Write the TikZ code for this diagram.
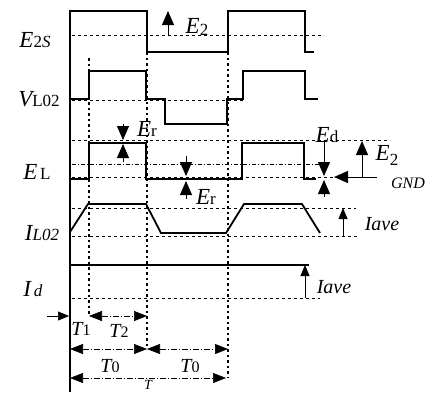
\documentclass[tikz,border=0pt]{standalone}
\usepackage{fontspec}
\setmainfont{Liberation Serif}
\usetikzlibrary{arrows.meta}

\newcommand{\siglabel}[2]{{\fontsize{23}{23}\selectfont\itshape #1}{\fontsize{17}{17}\selectfont #2}}
\newcommand{\tlabel}[2]{{\fontsize{20}{20}\selectfont\itshape #1}{\fontsize{16}{16}\selectfont #2}}

\begin{document}
\begin{tikzpicture}[
  x=1pt, y=-1pt,
  wave/.style={line width=1.8pt},
  axisline/.style={line width=1.9pt},
  guide/.style={line width=0.7pt, dash pattern=on 3pt off 3pt},
  midguide/.style={line width=0.7pt, dash pattern=on 4pt off 2pt on 1pt off 2pt},
  vguide/.style={line width=1.2pt, dash pattern=on 2.5pt off 3pt},
  arr/.style={-{Triangle[length=14pt,width=12pt]}, line width=1pt},
  sarr/.style={-{Triangle[length=11pt,width=9pt]}, line width=0.9pt},
  tarr/.style={{Triangle[length=13pt,width=10pt]}-{Triangle[length=13pt,width=10pt]},
               line width=0.6pt, dash pattern=on 6pt off 2pt on 1pt off 2pt},
  sig/.style={inner sep=0pt},
]
\useasboundingbox (0,0) rectangle (431,392);

%% ── Axis and time guides ─────────────────────────────────────────
\draw[axisline] (70,10) -- (70,392);
\draw[vguide] (89,58)  -- (89,316);
\draw[vguide] (147,52) -- (147,349);
\draw[vguide] (228,52) -- (228,378);

%% ── Level guides ─────────────────────────────────────────────────
\draw[guide]    (72,35)  -- (324,35);
\draw[guide]    (72,100) -- (243,100);
\draw[guide]    (72,140) -- (390,140);
\draw[midguide] (72,164) -- (330,164);
\draw[guide]    (72,177) -- (333,177);
\draw[guide]    (72,208) -- (356,208);
\draw[guide]    (72,236) -- (357,236);
\draw[guide]    (72,298) -- (320,298);

%% ── Waveforms ────────────────────────────────────────────────────
\draw[wave] (70,11) -- (147,11) -- (147,52) -- (228,52) -- (228,11)
            -- (305,11) -- (305,52) -- (314,52);
\draw[wave] (70,99) -- (89,99) -- (89,71) -- (146,71) -- (146,99)
            -- (165,99) -- (165,124) -- (227,124) -- (227,99)
            -- (243,99) -- (243,71) -- (305,71) -- (305,99) -- (318,99);
\draw[wave] (70,179) -- (89,179) -- (89,143) -- (146,143) -- (146,179)
            -- (242,179) -- (242,143) -- (304,143) -- (304,179) -- (316,179);
\draw[wave] (70,232) -- (88,204) -- (146,204) -- (161,233) -- (226,233)
            -- (244,204) -- (302,204) -- (320,233);
\draw[wave] (70,265) -- (309,265);

%% ── Signal names ─────────────────────────────────────────────────
\node[sig] (e2s) at (35,40)  {\siglabel{E}{2\textit{S}}};
\node[sig] (vl)  at (39,99)  {\siglabel{V}{L02}};
\node[sig] (el)  at (37,172) {\siglabel{E}{\,L}};
\node[sig] (il)  at (42,233) {\siglabel{I}{\textit{L02}}};
\node[sig] (id)  at (33,289) {\siglabel{I}{\,\textit{d}}};

%% ── Level arrows ─────────────────────────────────────────────────
\coordinate (e2a) at (168,36);   \coordinate (e2b) at (168,11);
\coordinate (era) at (123,124);  \coordinate (erb) at (123,140);
\coordinate (erc) at (123,162);  \coordinate (erd) at (123,144);
\coordinate (esa) at (186,156);  \coordinate (esb) at (186,176);
\coordinate (esc) at (186,199);  \coordinate (esd) at (186,181);
\coordinate (eda) at (324,141);  \coordinate (edb) at (324,176);
\coordinate (edc) at (324,197);  \coordinate (edd) at (324,180);
\coordinate (gnda) at (377,177); \coordinate (gndb) at (334,177);
\coordinate (e2c) at (362,177);  \coordinate (e2d) at (362,141);
\coordinate (iva) at (343,236);  \coordinate (ivb) at (343,208);
\coordinate (iwa) at (305,298);  \coordinate (iwb) at (305,265);

\draw[arr]  (e2a) -- (e2b);
\draw[arr]  (era) -- (erb);
\draw[arr]  (erc) -- (erd);
\draw[arr]  (esa) -- (esb);
\draw[arr]  (esc) -- (esd);
\draw[arr]  (eda) -- (edb);
\draw[arr]  (edc) -- (edd);
\draw[arr]  (gnda) -- (gndb);
\draw[arr]  (e2c) -- (e2d);
\draw[sarr] (iva) -- (ivb);
\draw[sarr] (iwa) -- (iwb);

\node[sig] (e2top) at (197,27)  {\siglabel{E}{\raisebox{-2pt}{2}}};
\node[sig] (er1)   at (147,129) {\siglabel{E}{r}};
\node[sig] (er2)   at (206,197) {\siglabel{E}{r}};
\node[sig] (ed)    at (327,135) {\siglabel{E}{d}};
\node[sig] (e2r)   at (387,155) {\siglabel{E}{\raisebox{-5pt}{2}}};
\node[sig, font=\fontsize{16}{16}\selectfont\itshape] (gnd) at (408,183) {GND};
\node[sig, font=\fontsize{20}{20}\selectfont\itshape] (iave1) at (382,224) {Iave};
\node[sig, font=\fontsize{20}{20}\selectfont\itshape] (iave2) at (334,287) {Iave};

%% ── Time intervals ───────────────────────────────────────────────
\coordinate (t1a) at (47,316);  \coordinate (t1b) at (69,316);
\coordinate (t2a) at (89,316);  \coordinate (t2b) at (147,316);
\coordinate (t0a) at (70,349);  \coordinate (t0b) at (147,349);
\coordinate (t0c) at (228,349);
\coordinate (ta)  at (70,378);  \coordinate (tb)  at (226,378);

\draw[sarr, line width=0.6pt] (t1a) -- (t1b);
\draw[tarr] (t2a) -- (t2b);
\draw[tarr] (t0a) -- (t0b);
\draw[tarr] (t0b) -- (t0c);
\draw[tarr] (ta)  -- (tb);

\node[sig] (t1)  at (81,329)  {\tlabel{T}{1}};
\node[sig] (t2)  at (119,331) {\tlabel{T}{2}};
\node[sig] (t0l) at (110,366) {\tlabel{T}{0}};
\node[sig] (t0r) at (190,366) {\tlabel{T}{0}};
\node[sig, anchor=north, font=\fontsize{14}{14}\selectfont\itshape] (tt) at (148,380.5) {T};

\end{tikzpicture}
\end{document}
